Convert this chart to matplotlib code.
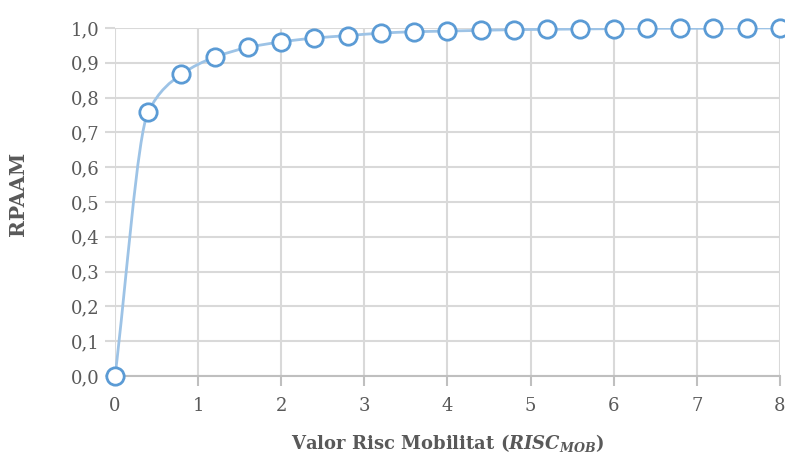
import numpy as np
import matplotlib
matplotlib.use('Agg')
import matplotlib.pyplot as plt
from matplotlib.path import Path
from matplotlib.patches import PathPatch

plt.rcParams['font.family'] = ['DejaVu Serif']
plt.rcParams['mathtext.fontset'] = 'custom'
plt.rcParams['mathtext.rm'] = 'DejaVu Serif'
plt.rcParams['mathtext.it'] = 'DejaVu Serif:italic'
plt.rcParams['mathtext.bf'] = 'DejaVu Serif:bold'
plt.rcParams['mathtext.bfit'] = 'DejaVu Serif:bold:italic'

# data
risc_mob = [0.0, 0.4, 0.8, 1.2, 1.6, 2.0, 2.4, 2.8, 3.2, 3.6, 4.0,
            4.4, 4.8, 5.2, 5.6, 6.0, 6.4, 6.8, 7.2, 7.6, 8.0]
rpaam = [0.0, 0.759, 0.867, 0.916, 0.944, 0.960, 0.971, 0.978, 0.985, 0.989, 0.991,
         0.993, 0.995, 0.996, 0.997, 0.998, 0.999, 0.999, 0.999, 1.0, 1.0]
xticks = [0, 1, 2, 3, 4, 5, 6, 7, 8]
yticks = [0.0, 0.1, 0.2, 0.3, 0.4, 0.5, 0.6, 0.7, 0.8, 0.9, 1.0]

txt = '#595959'
grid = '#D9D9D9'

fig = plt.figure(figsize=(7.85, 4.55), dpi=100)
ax = fig.add_axes([0.1465, 0.1736, 0.847, 0.765])

# smoothed line through the points (monotone cubic slopes -> bezier segments)
x = np.array(risc_mob)
y = np.array(rpaam)
h = np.diff(x)
d = np.diff(y) / h
m = np.zeros(len(x))
m[0] = d[0]
m[-1] = d[-1]
for i in range(1, len(x) - 1):
    if d[i - 1] * d[i] > 0:
        w1 = 2 * h[i] + h[i - 1]
        w2 = h[i] + 2 * h[i - 1]
        m[i] = (w1 + w2) / (w1 / d[i - 1] + w2 / d[i])
verts = [(x[0], y[0])]
codes = [Path.MOVETO]
for i in range(len(x) - 1):
    verts += [(x[i] + h[i] / 3, y[i] + m[i] * h[i] / 3),
              (x[i + 1] - h[i] / 3, y[i + 1] - m[i + 1] * h[i] / 3),
              (x[i + 1], y[i + 1])]
    codes += [Path.CURVE4] * 3
ax.add_patch(PathPatch(Path(verts, codes), facecolor='none', edgecolor='#9DC3E6',
                       linewidth=2, zorder=3))

ax.plot(risc_mob, rpaam, linestyle='none', marker='o', markersize=12.5,
        markerfacecolor='white', markeredgecolor='#5B9BD5', markeredgewidth=2,
        clip_on=False, zorder=4)

ax.set_xlim(0, 8)
ax.set_ylim(0, 1)
ax.set_xticks(xticks)
ax.set_yticks(yticks)
ax.set_yticklabels([('%.1f' % v).replace('.', ',') for v in yticks])
ax.grid(True, color=grid, linewidth=1.5)
ax.set_axisbelow(True)
for s in ['left', 'right', 'top']:
    ax.spines[s].set_visible(False)
ax.spines['bottom'].set_color('#BFBFBF')
ax.spines['bottom'].set_linewidth(1.5)
ax.tick_params(axis='y', length=7, width=1.5, color=grid, labelsize=13, labelcolor=txt, pad=4)
ax.tick_params(axis='x', length=7, width=1.5, color='#BFBFBF', labelsize=13, labelcolor=txt, pad=8)

ax.set_ylabel('RPAAM', fontsize=14.5, fontweight='bold', color=txt)
ax.yaxis.set_label_coords(-0.131, 0.523)
ax.set_xlabel(r'Valor Risc Mobilitat ($\mathbfit{RISC}_{\mathbfit{MOB}}$)', fontsize=13,
              fontweight='bold', color=txt, labelpad=12)

plt.savefig('out.png', dpi=100)
